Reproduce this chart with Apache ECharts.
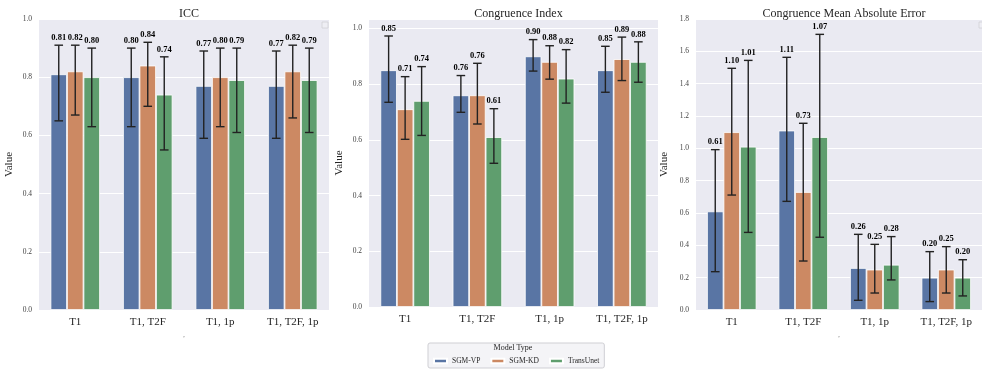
<!DOCTYPE html>
<html><head><meta charset="utf-8">
<script src="https://cdn.jsdelivr.net/npm/echarts@6/dist/echarts.min.js"></script>
<style>html,body{margin:0;padding:0;background:#fff}#c{width:982px;height:370px}</style>
</head><body><div id="c"></div>
<script>
const categories = ['T1', 'T1, T2F', 'T1, 1p', 'T1, T2F, 1p'];
const models = ['SGM-VP', 'SGM-KD', 'TransUnet'];
const colors = ['#5975a4', '#cc8963', '#5f9e6e'];
const panelTitles = ['ICC', 'Congruence Index', 'Congruence Mean Absolute Error'];

// ICC
const iccVP = [0.81, 0.80, 0.77, 0.77];
const iccKD = [0.82, 0.84, 0.80, 0.82];
const iccTU = [0.80, 0.74, 0.79, 0.79];
const iccVPLo = [0.65, 0.63, 0.59, 0.59];
const iccVPHi = [0.91, 0.90, 0.89, 0.89];
const iccKDLo = [0.67, 0.70, 0.63, 0.66];
const iccKDHi = [0.91, 0.92, 0.90, 0.91];
const iccTULo = [0.63, 0.55, 0.61, 0.61];
const iccTUHi = [0.90, 0.87, 0.90, 0.90];

// Congruence Index
const ciVP = [0.85, 0.76, 0.90, 0.85];
const ciKD = [0.71, 0.76, 0.88, 0.89];
const ciTU = [0.74, 0.61, 0.82, 0.88];
const ciVPLo = [0.735, 0.699, 0.847, 0.771];
const ciVPHi = [0.973, 0.831, 0.960, 0.936];
const ciKDLo = [0.602, 0.657, 0.818, 0.813];
const ciKDHi = [0.827, 0.875, 0.938, 0.969];
const ciTULo = [0.616, 0.516, 0.732, 0.807];
const ciTUHi = [0.863, 0.712, 0.924, 0.952];

// Congruence MAE
const maeVP = [0.61, 1.11, 0.26, 0.20];
const maeKD = [1.10, 0.73, 0.25, 0.25];
const maeTU = [1.01, 1.07, 0.28, 0.20];
const maeVPLo = [0.237, 0.672, 0.060, 0.052];
const maeVPHi = [0.992, 1.563, 0.468, 0.361];
const maeKDLo = [0.711, 0.303, 0.105, 0.105];
const maeKDHi = [1.495, 1.155, 0.406, 0.392];
const maeTULo = [0.480, 0.450, 0.186, 0.087];
const maeTUHi = [1.544, 1.705, 0.454, 0.311];

const panels = [
  { means: [iccVP, iccKD, iccTU], lo: [iccVPLo, iccKDLo, iccTULo], hi: [iccVPHi, iccKDHi, iccTUHi], max: 1.0 },
  { means: [ciVP, ciKD, ciTU], lo: [ciVPLo, ciKDLo, ciTULo], hi: [ciVPHi, ciKDHi, ciTUHi], max: 1.034 },
  { means: [maeVP, maeKD, maeTU], lo: [maeVPLo, maeKDLo, maeTULo], hi: [maeVPHi, maeKDHi, maeTUHi], max: 1.8 }
];

const SERIF = '"Liberation Serif", "DejaVu Serif", serif';
const BW = 16.5;
const grids = [
  { left: 39, top: 19, width: 290, height: 291 },
  { left: 369, top: 19, width: 289, height: 288 },
  { left: 696, top: 19, width: 286, height: 291 }
];

const option = {
  animation: false,
  backgroundColor: '#ffffff',
  title: [], grid: [], xAxis: [], yAxis: [], series: [],
  legend: {
    data: models, left: 428, top: 343, z: 10,
    padding: [14, 5, 3, 5], itemGap: 10, itemWidth: 13, itemHeight: 4.5,
    icon: 'rect', borderColor: '#cfcfd4', borderWidth: 1, borderRadius: 2,
    backgroundColor: '#f4f4f7',
    textStyle: { fontFamily: SERIF, fontSize: 7.5, color: '#262626' }
  },
  graphic: [
    { type: 'text', z: 100, zlevel: 1, x: 513, y: 344, style: { text: 'Model Type', font: '8px ' + SERIF, fill: '#262626', align: 'center', textAlign: 'center' } },
    { type: 'rect', shape: { x: 322, y: 22, width: 6, height: 6 }, style: { fill: '#eeeef4', stroke: '#d0d0d6', lineWidth: 0.8 } },
    { type: 'rect', shape: { x: 979, y: 22, width: 6, height: 6 }, style: { fill: '#eeeef4', stroke: '#d0d0d6', lineWidth: 0.8 } }
  ]
};

panels.forEach((p, gi) => {
  const g = grids[gi];
  option.grid.push(Object.assign({ show: true, backgroundColor: '#eaeaf2', borderWidth: 0, containLabel: false }, g));
  option.title.push({
    text: panelTitles[gi], left: g.left + g.width / 2, top: 3, textAlign: 'center',
    textStyle: { fontFamily: SERIF, fontSize: 12, fontWeight: 'normal', color: '#262626' }
  });
  option.xAxis.push({
    type: 'category', gridIndex: gi, data: categories,
    name: gi === 1 ? '' : ',', nameLocation: 'middle', nameGap: 22,
    nameTextStyle: { fontFamily: SERIF, fontSize: 6, color: '#555' },
    axisLine: { show: false }, axisTick: { show: false }, splitLine: { show: false },
    axisLabel: { fontFamily: SERIF, fontSize: 11, color: '#262626', margin: 7 }
  });
  option.yAxis.push({
    type: 'value', gridIndex: gi, min: 0, max: p.max, interval: 0.2,
    name: 'Value', nameLocation: 'middle', nameGap: gi === 2 ? 26 : 24,
    nameTextStyle: { fontFamily: SERIF, fontSize: 11, color: '#262626' },
    axisLine: { show: false }, axisTick: { show: false },
    splitLine: { lineStyle: { color: '#ffffff', width: 1 } },
    axisLabel: {
      fontFamily: SERIF, fontSize: 7.5, color: '#444', margin: 7,
      formatter: v => (Math.abs(Math.round(v * 5) - v * 5) < 1e-6 ? v.toFixed(1) : '')
    }
  });
  models.forEach((m, k) => {
    option.series.push({
      type: 'bar', name: m, xAxisIndex: gi, yAxisIndex: gi,
      data: p.means[k], barWidth: BW, barGap: '0%',
      itemStyle: { color: colors[k], borderColor: '#ffffff', borderWidth: 0.8 },
      z: 2
    });
  });
  const errData = [];
  models.forEach((m, k) => {
    categories.forEach((c, ci) => {
      errData.push([ci, k, p.means[k][ci], p.lo[k][ci], p.hi[k][ci]]);
    });
  });
  option.series.push({
    type: 'custom', xAxisIndex: gi, yAxisIndex: gi, z: 5,
    encode: { x: 0, y: 4 }, data: errData, silent: true,
    renderItem: function (params, api) {
      const ci = api.value(0), k = api.value(1), mean = api.value(2), lo = api.value(3), hi = api.value(4);
      const top = api.coord([ci, hi]);
      const bot = api.coord([ci, lo]);
      const x = top[0] + (k - 1) * BW;
      const ls = { stroke: '#222', lineWidth: 1.4 };
      return {
        type: 'group', children: [
          { type: 'line', shape: { x1: x, y1: top[1], x2: x, y2: bot[1] }, style: ls },
          { type: 'line', shape: { x1: x - 4.3, y1: top[1], x2: x + 4.3, y2: top[1] }, style: ls },
          { type: 'line', shape: { x1: x - 4.3, y1: bot[1], x2: x + 4.3, y2: bot[1] }, style: ls },
          { type: 'text', style: {
              text: mean.toFixed(2), x: x, y: top[1] - 3,
              textAlign: 'center', textVerticalAlign: 'bottom', align: 'center', verticalAlign: 'bottom',
              font: 'bold 8.5px ' + SERIF, fill: '#000'
          } }
        ]
      };
    }
  });
});

const chart = echarts.init(document.getElementById('c'), null, { renderer: 'canvas' });
chart.setOption(option);
</script>
</body></html>
